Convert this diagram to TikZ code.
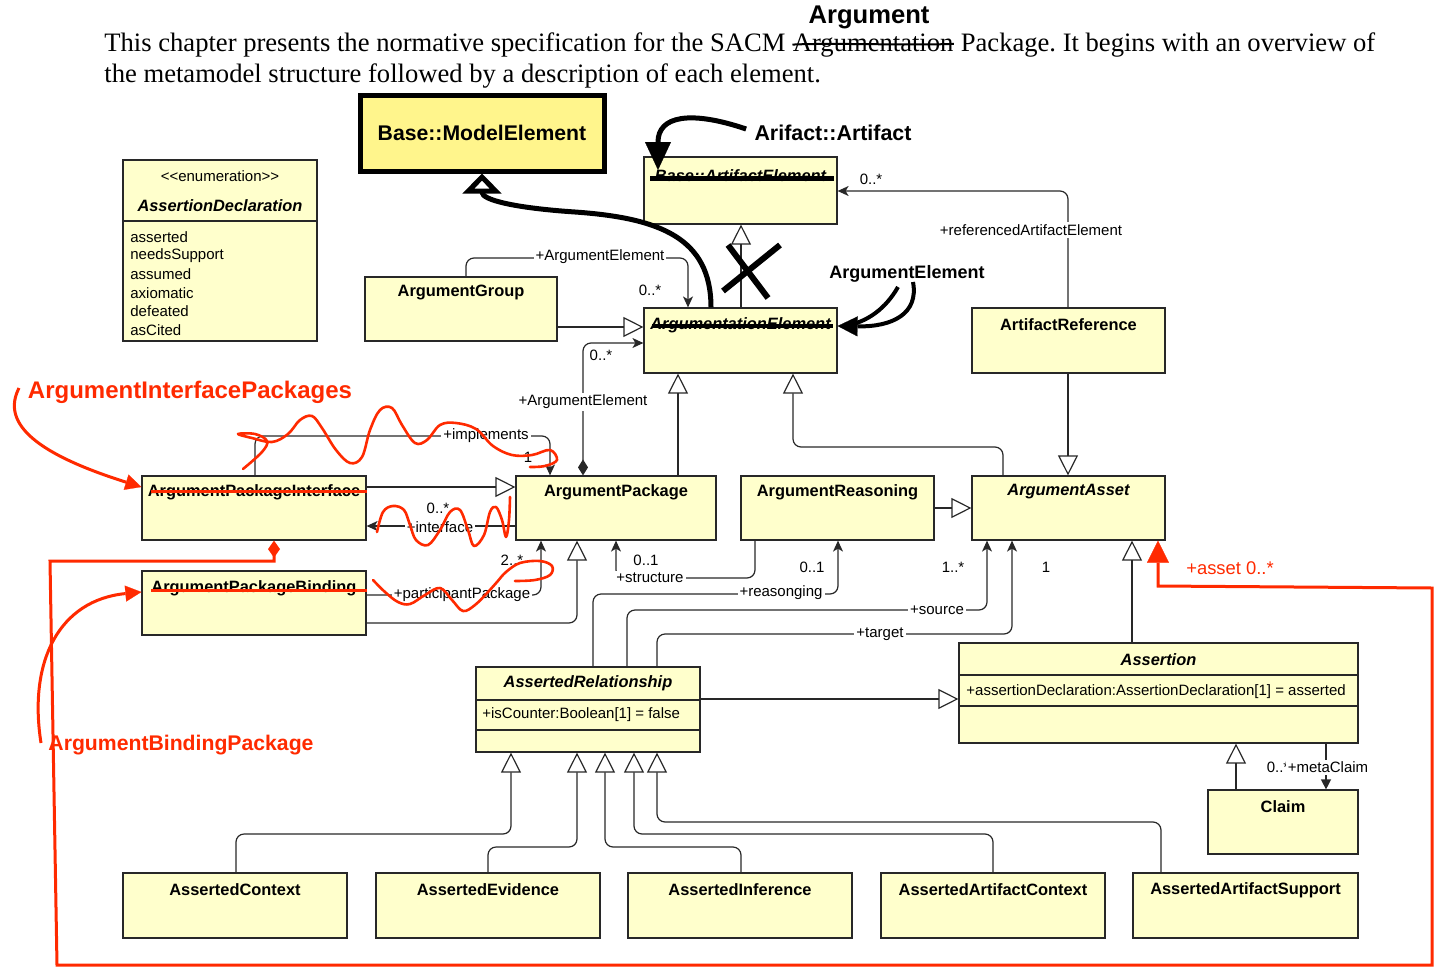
\documentclass[tikz,border=0pt]{standalone}
\usepackage{fontspec}
\setmainfont{Liberation Sans}
\newfontfamily\bodyserif{Liberation Serif}
\usetikzlibrary{arrows.meta,fit}
\frenchspacing
\definecolor{classfill}{RGB}{255,255,204}
\definecolor{basefill}{RGB}{255,245,140}
\definecolor{boxline}{RGB}{40,40,40}
\definecolor{markred}{RGB}{255,42,0}
\tikzset{
  cls/.style={draw=boxline, fill=classfill, line width=0.6pt, inner sep=0pt},
  cname/.style={font=\fontsize{8.2}{10}\selectfont\bfseries, inner sep=0pt},
  ciname/.style={font=\fontsize{8.2}{10}\selectfont\bfseries\itshape, inner sep=0pt},
  attr/.style={font=\fontsize{7.5}{9}\selectfont, inner sep=0pt, anchor=west},
  lbl/.style={font=\fontsize{7.5}{9}\selectfont, fill=white, inner sep=1pt},
  mult/.style={font=\fontsize{7.5}{9}\selectfont, inner sep=0pt},
  wire/.style={draw=boxline, line width=0.6pt, rounded corners=4pt},
  gen/.style={wire, -{Triangle[open, length=10pt, width=10pt]}},
  nav/.style={wire, -{Stealth[length=5.5pt, width=5pt, inset=1.5pt]}},
  comp/.style={wire, {Diamond[length=8pt, width=5pt]}-{Stealth[length=5.5pt, width=5pt, inset=1.5pt]}},
  ink/.style={line width=2.5pt},
  redink/.style={draw=markred, line width=1.5pt},
  scrawl/.style={draw=markred, line width=1.3pt, line cap=round, line join=round},
  bodytext/.style={anchor=base west, inner sep=0pt, font=\bodyserif\fontsize{13.3}{16}\selectfont},
  redlabel/.style={text=markred, inner sep=0pt, font=\bfseries},
}
\begin{document}
\begin{tikzpicture}[x=0.5pt, y=-0.5pt]
\useasboundingbox (0,0) rectangle (1440,969);

% ---- introductory paragraph ----
\node[bodytext] (txA) at (104,51) {This chapter presents the normative specification for the SACM};
\node[bodytext] (txB) at ([xshift=3.3pt]txA.base east) {Argumentation};
\node[bodytext] (txC) at ([xshift=3.3pt]txB.base east) {Package. It begins with an overview of};
\node[bodytext] (txD) at (104,82) {the metamodel structure followed by a description of each element.};
\draw[line width=1pt] ([yshift=3.2pt]txB.base west) .. controls ([xshift=-20pt, yshift=4.2pt]txB.base) and ([xshift=20pt, yshift=2.6pt]txB.base) .. ([yshift=3.6pt]txB.base east);
\node[font=\fontsize{12.8}{15}\selectfont\bfseries, inner sep=0pt] (hdr) at (869,17) {Argument};

% ---- classes ----
\node[cls, fit={(123,160)(317,341)}] (enum) {};
\node[mult] (enumS) at (220,176) {<{}<enumeration>{}>};
\node[ciname] (enumT) at (220,206) {AssertionDeclaration};
\draw[draw=boxline, line width=0.6pt] (enum.west |- 0,221) -- (enum.east |- 0,221);
\node[attr] (e1) at (130,237.5) {asserted};
\node[attr] (e2) at (130,256) {needsSupport};
\node[attr] (e3) at (130,274.5) {assumed};
\node[attr] (e4) at (130,293) {axiomatic};
\node[attr] (e5) at (130,311.5) {defeated};
\node[attr] (e6) at (130,330) {asCited};

\node[draw=black, fill=basefill, line width=2.5pt, inner sep=0pt, fit={(360,95)(604,171)}] (me) {};
\node[font=\fontsize{10.6}{12}\selectfont\bfseries, inner sep=0pt] (meT) at (482,133) {Base::ModelElement};

\node[cls, fit={(644,157)(837,224)}] (bae) {};
\node[ciname] (baeT) at (740.5,176) {Base::ArtifactElement};
\node[cls, fit={(644,308)(837,373)}] (ae) {};
\node[ciname] (aeT) at (740.5,325) {ArgumentationElement};
\node[cls, fit={(365,277)(557,341)}] (ag) {};
\node[cname] (agT) at (461,293) {ArgumentGroup};
\node[cls, fit={(972,308)(1165,373)}] (aref) {};
\node[cname] (arefT) at (1068.5,325) {ArtifactReference};

\node[cls, fit={(142,476)(366,540)}] (api) {};
\node[cname] (apiT) at (254,492) {ArgumentPackageInterface};
\node[cls, fit={(516,476)(716,540)}] (ap) {};
\node[cname] (apT) at (616,492) {ArgumentPackage};
\node[cls, fit={(741,476)(934,540)}] (arsn) {};
\node[cname] (arsnT) at (837.5,492) {ArgumentReasoning};
\node[cls, fit={(972,476)(1165,540)}] (aa) {};
\node[ciname] (aaT) at (1068.5,492) {ArgumentAsset};
\node[cls, fit={(142,571)(366,635)}] (apb) {};
\node[cname] (apbT) at (254,588) {ArgumentPackageBinding};

\node[cls, fit={(476,667)(700,752)}] (ar) {};
\node[ciname] (arT) at (588,683) {AssertedRelationship};
\draw[draw=boxline, line width=0.6pt] (ar.west |- 0,700) -- (ar.east |- 0,700);
\node[attr] (arA) at (482,715) {+isCounter:Boolean[1] = false};
\draw[draw=boxline, line width=0.6pt] (ar.west |- 0,730) -- (ar.east |- 0,730);

\node[cls, fit={(959,643)(1358,743)}] (as) {};
\node[ciname] (asT) at (1158.5,660) {Assertion};
\draw[draw=boxline, line width=0.6pt] (as.west |- 0,675) -- (as.east |- 0,675);
\node[attr] (asA) at (966,692) {+assertionDeclaration:AssertionDeclaration[1] = asserted};
\draw[draw=boxline, line width=0.6pt] (as.west |- 0,706) -- (as.east |- 0,706);

\node[cls, fit={(1208,790)(1358,854)}] (cl) {};
\node[cname] (clT) at (1283,807) {Claim};

\node[cls, fit={(123,873)(347,938)}] (actx) {};
\node[cname] (actxT) at (235,890) {AssertedContext};
\node[cls, fit={(376,873)(600,938)}] (aev) {};
\node[cname] (aevT) at (488,890) {AssertedEvidence};
\node[cls, fit={(628,873)(852,938)}] (ainf) {};
\node[cname] (ainfT) at (740,890) {AssertedInference};
\node[cls, fit={(881,873)(1105,938)}] (aac) {};
\node[cname] (aacT) at (993,890) {AssertedArtifactContext};
\node[cls, fit={(1133,873)(1358,938)}] (aas) {};
\node[cname] (aasT) at (1245.5,890) {AssertedArtifactSupport};

% ---- generalizations ----
\draw[gen] (741,0 |- ae.north) -- (741,0 |- bae.south);
\draw[gen] (ag.east |- 0,327) -- (ae.west |- 0,327);
\draw[gen] (678,0 |- ap.north) -- (678,0 |- ae.south);
\draw[gen] (1003,0 |- aa.north) -- (1003,447) -- (793,447) -- (793,0 |- ae.south);
\draw[gen] (1068,0 |- aref.south) -- (1068,0 |- aa.north);
\draw[gen] (api.east |- 0,487) -- (ap.west |- 0,487);
\draw[gen] (apb.east |- 0,623) -- (577,623) -- (577,0 |- ap.south);
\draw[gen] (arsn.east |- 0,508) -- (aa.west |- 0,508);
\draw[gen] (1132,0 |- as.north) -- (1132,0 |- aa.south);
\draw[gen] (ar.east |- 0,699) -- (as.west |- 0,699);
\draw[gen] (1236,0 |- cl.north) -- (1236,0 |- as.south);
\draw[gen] (236,0 |- actx.north) -- (236,834) -- (511,834) -- (511,0 |- ar.south);
\draw[gen] (488,0 |- aev.north) -- (488,847) -- (577,847) -- (577,0 |- ar.south);
\draw[gen] (741,0 |- ainf.north) -- (741,847) -- (605,847) -- (605,0 |- ar.south);
\draw[gen] (993,0 |- aac.north) -- (993,834) -- (634,834) -- (634,0 |- ar.south);
\draw[gen] (1161,0 |- aas.north) -- (1161,822) -- (657,822) -- (657,0 |- ar.south);

% ---- associations ----
\draw[nav] (466,0 |- ag.north) -- (466,258) -- (688,258) -- (688,0 |- ae.north);
\draw[comp] (583,0 |- ap.north) -- (583,343) -- (ae.west |- 0,343);
\draw[nav] (1068,0 |- aref.north) -- (1068,191) -- (bae.east |- 0,191);
\draw[nav] (255,0 |- api.north) -- (255,436) -- (550,436) -- (550,0 |- ap.north);
\draw[nav] (ap.west |- 0,526) -- (api.east |- 0,526);
\draw[nav] (apb.east |- 0,595) -- (541,595) -- (541,0 |- ap.south);
\draw[nav] (755,0 |- arsn.south) -- (755,578) -- (616,578) -- (616,0 |- ap.south);
\draw[nav] (593,0 |- ar.north) -- (593,594) -- (838,594) -- (838,0 |- arsn.south);
\draw[nav] (627,0 |- ar.north) -- (627,610) -- (987,610) -- (987,0 |- aa.south);
\draw[nav] (657,0 |- ar.north) -- (657,634) -- (1012,634) -- (1012,0 |- aa.south);
\draw[wire, -{Triangle[length=5pt, width=5pt]}] (1326,0 |- as.south) -- (1326,0 |- cl.north);

% ---- role names and multiplicities ----
\node[lbl] (lGrp) at (600,257) {+ArgumentElement};
\node[mult] (mGrp) at (650,290) {0..*};
\node[lbl] (lCmp) at (583,402) {+ArgumentElement};
\node[mult] (mCmp) at (601,355) {0..*};
\node[lbl] (lRef) at (1031,230) {+referencedArtifactElement};
\node[mult] (mRef) at (871,179) {0..*};
\node[lbl] (lImp) at (486,436) {+implements};
\node[mult] (mImp) at (528,457) {1};
\node[mult] (mInt) at (438,508) {0..*};
\node[lbl] (lInt) at (440,527) {+interface};
\node[mult] (mPar) at (512,560) {2..*};
\node[lbl] (lPar) at (462,595) {+participantPackage};
\node[mult] (mStr) at (646,560) {0..1};
\node[lbl] (lStr) at (650,578) {+structure};
\node[mult] (mRsn) at (812,567) {0..1};
\node[lbl] (lRsn) at (781,593) {+reasonging};
\node[mult] (mSrc) at (953,567) {1..*};
\node[lbl] (lSrc) at (937,610) {+source};
\node[mult] (mTgt) at (1046,567) {1};
\node[lbl] (lTgt) at (880,634) {+target};
\node[mult] (mMeta) at (1278,767) {0..*};
\node[lbl] (lMeta) at (1328,767) {+metaClaim};

% ---- black pen mark-up ----
\draw[line width=2.5pt] (650,178) -- (834,178);
\draw[line width=1.6pt] (652,326) -- (833,326);
\draw[line width=3pt] (728,245) -- (768,298);
\draw[line width=3pt] (780,245) -- (723,291);
\draw[ink, -{Triangle[open, length=10pt, width=19pt]}] (711,0 |- ae.north) .. controls (711,238) and (660,218) .. (575,212) .. controls (515,208) and (482,200) .. (482,0 |- me.south);
\node[font=\fontsize{10.7}{12}\selectfont\bfseries, inner sep=0pt] (artLbl) at (833,133) {Arifact::Artifact};
\coordinate (artTip) at (658,170);
\draw[ink, -{Triangle[length=14pt, width=13pt, line width=0.1pt]}] ([xshift=-4pt, yshift=2pt]artLbl.west) .. controls (690,110) and (658,116) .. (artTip);
\node[font=\fontsize{9}{11}\selectfont\bfseries, inner sep=0pt] (aeLbl) at (907,274) {ArgumentElement};
\draw[line width=2pt] (898,287) .. controls (886,308) and (868,322) .. (845,326);
\draw[line width=2pt, -{Triangle[length=10pt, width=10pt, line width=0.1pt]}] (913,282) .. controls (919,314) and (892,327) .. (ae.east |- 0,326);

% ---- red pen mark-up ----
\draw[markred, line width=1.5pt] (151,491) -- (api.east |- 0,491);
\draw[markred, line width=1.5pt] (151,590) -- (apb.east |- 0,590);
\draw[scrawl] plot[smooth, tension=0.6] coordinates {(243,469) (262,452) (267,441) (255,434) (238,434) (252,438) (272,442) (288,434) (300,420) (312,416) (322,428) (336,450) (350,463) (362,457) (370,430) (380,410) (392,408) (402,425) (415,443) (427,440) (440,425) (456,423) (476,429) (493,446) (512,455) (532,455) (550,450) (557,460) (545,466) (530,467)};
\draw[scrawl] plot[smooth, tension=0.6] coordinates {(377,532) (383,512) (393,506) (404,510) (410,525) (416,540) (428,545) (440,530) (450,512) (460,510) (468,530) (474,546) (484,535) (490,512) (496,507) (502,520) (506,537) (509,520) (510,497)};
\draw[scrawl] plot[smooth, tension=0.6] coordinates {(373,580) (385,592) (398,602) (410,604) (425,595) (440,588) (452,600) (463,611) (475,605) (488,592) (497,582) (506,572) (520,563) (540,561) (552,566) (550,575) (535,580) (515,581)};
\draw[redink, {Diamond[length=8.5pt, width=6pt]}-{Triangle[length=11pt, width=11pt, line width=0.1pt]}] (274,0 |- api.south) -- (274,561) -- (50,561) -- (57,965) -- (1432,965) -- (1432,588) -- (1158,586) -- (1158,0 |- aa.south);
\node[text=markred, inner sep=0pt, font=\fontsize{9.2}{11}\selectfont] (assetLbl) at (1230,568) {+asset 0..*};
\node[redlabel, font=\fontsize{12}{14}\selectfont\bfseries] (ipLbl) at (190,392) {ArgumentInterfacePackages};
\node[redlabel, font=\fontsize{10.6}{13}\selectfont\bfseries] (bpLbl) at (181,745) {ArgumentBindingPackage};
\draw[redink, -{Triangle[length=8pt, width=8pt, line width=0.1pt]}] (19,388) .. controls (0,425) and (40,455) .. (api.west |- 0,487);
\draw[redink, -{Triangle[length=8pt, width=8pt, line width=0.1pt]}] (41,743) .. controls (28,660) and (60,600) .. (apb.west |- 0,592);
\end{tikzpicture}
\end{document}
